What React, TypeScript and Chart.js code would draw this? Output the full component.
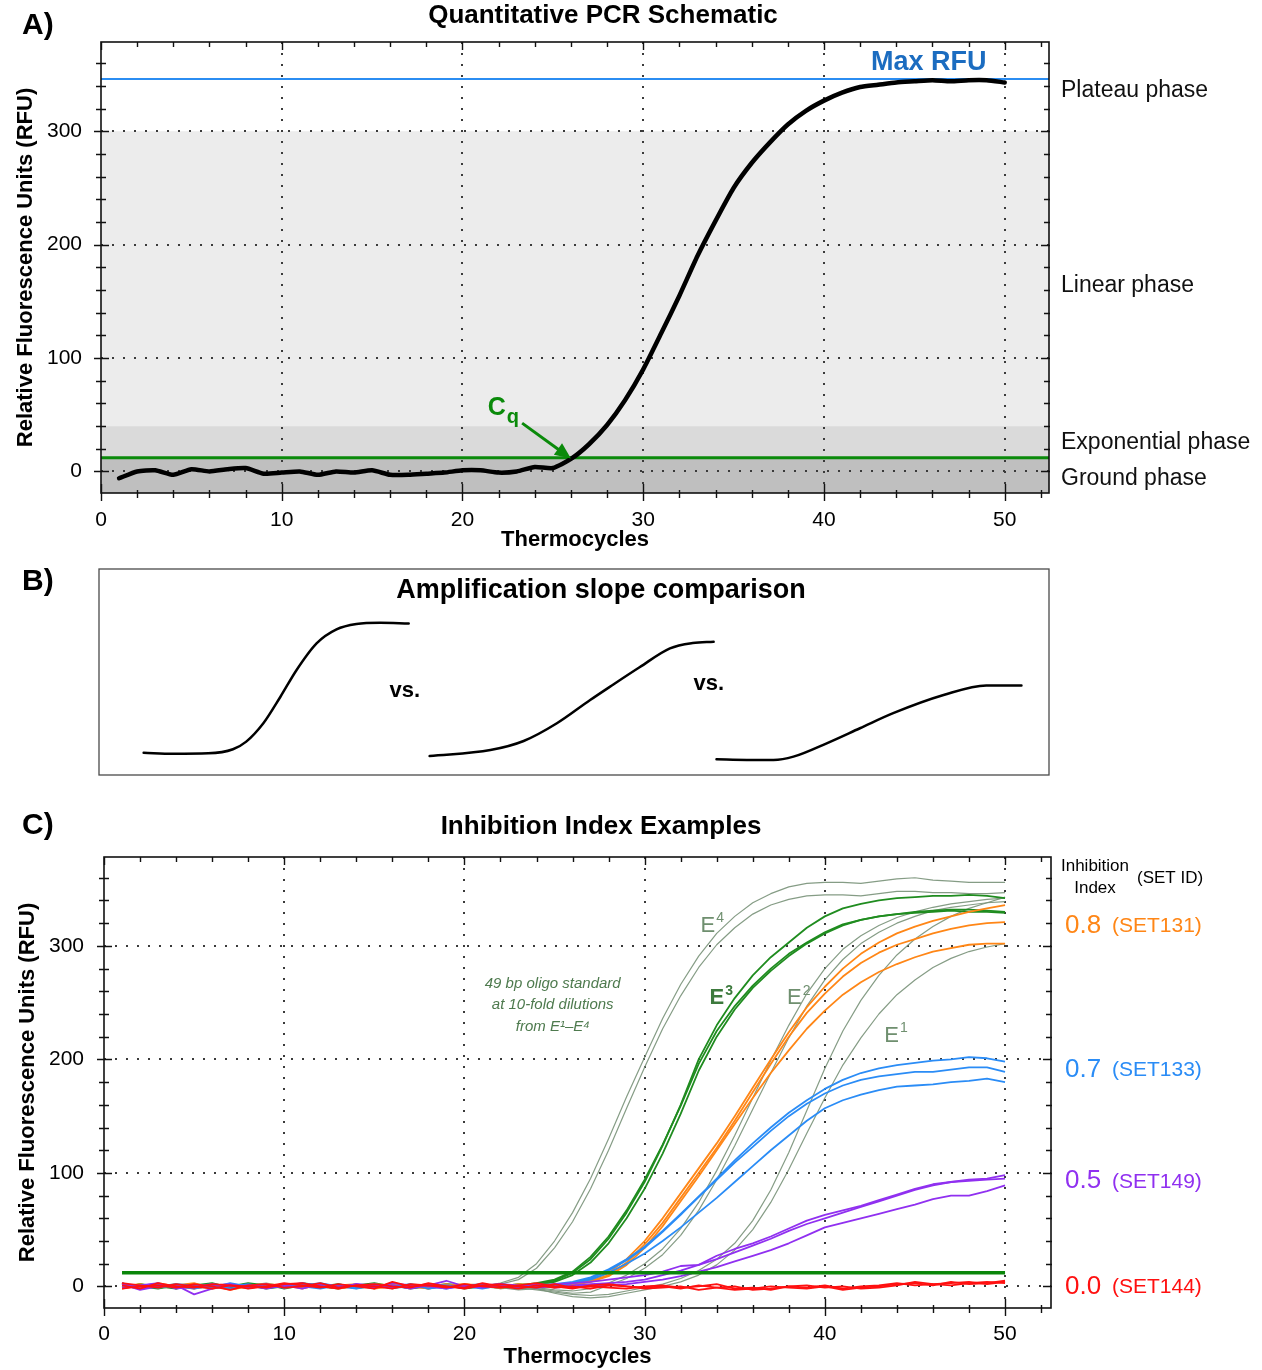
import React, { useEffect, useRef } from 'react';
import { Chart, registerables } from 'chart.js';

Chart.register(...registerables);

const FONT = "'Liberation Sans', Arial, Helvetica, sans-serif";
Chart.defaults.font.family = FONT;
Chart.defaults.color = '#000';

// ---------------- shared ----------------
const CYCLES = Array.from({ length: 50 }, (_, i) => i + 1);
const X_TICKS = [0, 10, 20, 30, 40, 50];
const Y_TICKS = [0, 100, 200, 300];

// ---------------- Panel A ----------------
const PCR_CURVE = [-6, 0, 1, -3, 2, 0, 2, 3, -2, -1, 0, -3, 0, -1, 1, -3, -3, -2, -1, 1, 1, -1, 0, 4, 3, 11, 24, 41, 63, 90, 122, 155, 190, 221, 250, 272, 290, 306, 318, 327, 334, 339, 341, 343, 344, 345, 344, 345, 345, 343];
const CQ_THRESHOLD = 12;
const MAX_RFU = 346;
const PHASE_BOUNDS = [12, 40, 300];
const PHASE_LABELS = ['Plateau phase', 'Linear phase', 'Exponential phase', 'Ground phase'];
const PHASE_LABEL_Y = [336, 164, 25, -6];
const A_X_RANGE = [0, 52.45];
const A_Y_RANGE = [-19, 378.7];
const MAX_RFU_LABEL = [45.8, 360.5];
const CQ_ARROW_FROM = [23.3, 42.6];
const CQ_ARROW_TO = [26.0, 11.5];
const CQ_LABEL = [21.4, 55.7];

// ---------------- Panel B ----------------
const SLOPE_FAST_X = [4.7, 7.8, 11.5, 14.1, 15.5, 17.3, 19.1, 20.8, 22.9, 25.0, 27.1, 29.6, 32.6];
const SLOPE_FAST_Y = [10.8, 10.3, 10.5, 12.5, 16.2, 25.1, 38.0, 51.0, 63.9, 70.7, 73.3, 73.9, 73.6];
const SLOPE_MID_X = [34.8, 41.2, 44.7, 48.2, 51.7, 53.8, 56.9, 60.1, 62.5, 64.7];
const SLOPE_MID_Y = [9.2, 12.1, 16.5, 25.1, 36.4, 42.9, 52.3, 61.5, 64.1, 64.7];
const SLOPE_SLOW_X = [65.0, 68.2, 71.0, 73.1, 76.6, 80.1, 83.6, 88.9, 93.4, 97.1];
const SLOPE_SLOW_Y = [7.6, 7.3, 7.3, 8.9, 15.4, 22.7, 30.0, 38.8, 43.5, 43.5];
const VS_LABELS = [[32.2, 41], [64.2, 44]];

// ---------------- Panel C ----------------
const C_X_RANGE = [0, 52.55];
const C_Y_RANGE = [-19, 378.3];
const E4_A = [2, -1, 1, -2, 0, 1, -1, 2, 0, -1, 1, 0, -2, 1, 0, -1, 2, 0, -1, 1, 0, 3, 8, 20, 40, 65, 95, 130, 167, 202, 236, 266, 291, 311, 326, 338, 346, 352, 355, 356, 356, 355, 357, 359, 360, 358, 357, 356, 356, 356];
const E4_B = [-2, 1, 0, 2, -1, 0, 1, -2, 1, 0, -1, 2, 0, -1, 1, -2, 0, 1, 0, -1, 1, 2, 6, 16, 34, 57, 86, 120, 157, 193, 227, 256, 281, 301, 316, 328, 336, 341, 344, 345, 345, 344, 346, 348, 348, 347, 347, 346, 346, 347];
const E2_A = [1, -1, 2, 0, -2, 1, 0, -1, 2, 1, -1, 0, 1, -2, 0, 2, -1, 1, 0, -1, 2, 0, -2, -1, -3, -4, -2, 3, 10, 20, 33, 51, 74, 102, 133, 166, 199, 230, 258, 280, 297, 309, 318, 325, 330, 334, 337, 339, 341, 342];
const E2_B = [-1, 2, 0, 1, -2, 0, 2, -1, 0, 1, 2, -1, 0, 1, -1, 0, 2, 1, -1, 0, 1, -2, 0, -2, -4, -6, -5, 1, 7, 16, 28, 45, 67, 94, 124, 156, 188, 219, 247, 270, 288, 302, 312, 320, 326, 331, 334, 336, 338, 339];
const E1_A = [0, 2, -1, 1, 0, -2, 1, 2, -1, 0, 1, -1, 2, 0, -2, 1, 0, -1, 2, 1, 0, -2, -1, -3, -5, -7, -8, -7, -4, -1, 2, 7, 14, 24, 38, 58, 85, 118, 155, 192, 225, 252, 274, 292, 306, 317, 326, 333, 338, 343];
const E1_B = [-1, 0, 2, -2, 1, 0, -1, 1, 3, 0, -1, 2, 0, -1, 1, -2, 1, 0, -1, 2, 0, -1, -3, -2, -6, -9, -10, -9, -6, -3, 0, 4, 10, 19, 32, 50, 74, 103, 135, 166, 195, 219, 240, 257, 270, 281, 289, 295, 299, 302];
const E3_A = [3, -2, 1, 0, 2, -1, 0, 3, 1, -1, 2, 0, -2, 1, 3, 0, -1, 2, 1, -2, 0, 1, -1, 2, 5, 12, 24, 42, 65, 92, 124, 160, 200, 230, 254, 274, 290, 303, 316, 326, 333, 337, 340, 342, 343, 344, 344, 345, 344, 342];
const E3_B = [-1, 2, 0, -2, 1, 3, -1, 0, 2, -2, 1, 0, 2, -1, 0, 1, -2, 0, 2, 1, -1, 0, 2, 1, 4, 10, 21, 38, 60, 86, 117, 152, 190, 220, 244, 263, 278, 291, 302, 311, 318, 323, 326, 328, 330, 331, 332, 332, 331, 330];
const E3_C = [1, 0, -2, 1, 2, 0, -1, 1, -2, 0, 3, 1, 0, -1, 2, 0, 1, -2, 1, 0, 2, -1, 1, 3, 6, 13, 26, 44, 67, 94, 125, 159, 196, 225, 247, 265, 280, 293, 303, 312, 319, 323, 326, 328, 329, 330, 331, 330, 330, 329];
const SET131_A = [2, -1, 3, 0, -2, 1, 2, -1, 0, 1, -2, 2, 0, 1, -1, 3, 0, -2, 1, 2, 0, -1, 1, 2, 0, 3, 6, 12, 24, 40, 60, 82, 104, 126, 150, 175, 200, 224, 246, 264, 280, 293, 303, 311, 317, 322, 326, 330, 333, 336];
const SET131_B = [0, 2, -1, 1, 3, -2, 0, 1, 2, -1, 0, 1, -2, 0, 2, 1, -1, 0, 2, -1, 1, 0, 2, 1, -1, 2, 5, 10, 21, 37, 56, 78, 100, 122, 146, 171, 196, 220, 241, 258, 273, 285, 294, 301, 306, 311, 315, 318, 320, 321];
const SET131_C = [-2, 1, 0, 2, -1, 1, -3, 0, 2, 1, -1, 0, 1, 2, -2, 0, 1, -1, 0, 2, 1, -1, 0, 1, 2, 1, 4, 9, 19, 34, 53, 75, 97, 120, 143, 166, 188, 208, 227, 243, 257, 268, 277, 284, 290, 295, 298, 301, 302, 302];
const SET133_A = [1, -2, 0, 2, 1, -1, 3, 0, -1, 2, 0, -2, 1, 0, 2, -1, 1, 0, -2, 1, 2, 0, -1, 1, 0, 3, 7, 14, 23, 34, 48, 63, 79, 95, 111, 126, 140, 153, 164, 174, 182, 188, 192, 195, 197, 199, 200, 202, 201, 198];
const SET133_B = [-1, 1, 2, 0, -2, 1, 0, 2, -1, 0, 1, 3, 0, -1, 1, 0, 2, -2, 0, 1, -1, 2, 0, 1, 2, 4, 8, 15, 24, 35, 49, 64, 79, 94, 109, 123, 137, 150, 161, 170, 177, 182, 185, 187, 189, 189, 191, 193, 193, 189];
const SET133_C = [2, 0, -1, 1, 0, 2, -2, 1, 0, -1, 2, 1, 0, -2, 1, 0, -1, 2, 1, 0, -2, 1, 0, 2, 1, 3, 6, 12, 20, 29, 40, 52, 65, 78, 92, 106, 120, 133, 146, 157, 164, 169, 173, 176, 177, 178, 180, 181, 183, 180];
const SET149_A = [3, -2, 1, 0, -1, 2, 0, 1, -2, 1, 3, 0, -1, 2, 1, -1, 0, 2, -1, 0, 1, 2, -1, 0, 2, 3, 4, 6, 8, 10, 13, 18, 19, 27, 33, 38, 44, 51, 58, 63, 67, 71, 76, 81, 86, 90, 92, 94, 95, 98];
const SET149_B = [-1, 1, 3, -2, 0, 1, 2, -1, 0, 1, -2, 2, 0, 1, -1, 3, 1, 0, -2, 1, 0, 2, 1, -1, 0, 1, 2, 3, 4, 6, 10, 14, 19, 24, 30, 36, 42, 49, 55, 60, 65, 70, 75, 80, 85, 89, 92, 93, 94, 95];
const SET149_C = [2, -3, 0, 1, -7, -2, 1, 0, 2, -1, 1, 0, -1, 2, 0, 1, -2, 1, 5, 0, -1, 1, 0, 2, -1, 0, 1, 1, 2, 4, 6, 9, 13, 17, 22, 27, 32, 38, 45, 52, 56, 60, 64, 68, 72, 77, 80, 80, 84, 89];
const SET144_A = [1, -2, 3, 0, -1, 2, 1, -2, 0, 3, 1, -1, 2, 0, -2, 4, 0, 1, -1, 2, 0, -1, 1, 3, 0, -2, 1, 2, 0, -1, 0, -2, 1, -1, -3, -2, 0, -1, -2, 0, -3, -1, 0, 2, 3, 1, 4, 2, 3, 5];
const SET144_B = [-2, 0, 1, -1, 2, 0, -3, 1, 2, -1, 0, 3, -1, 1, 0, -2, 2, 1, 0, -1, 3, 0, -2, 1, -1, 0, -2, 1, 0, -2, -1, 0, -3, -1, 0, -3, -2, 0, -1, 1, -2, 0, 1, 3, 1, 2, 3, 4, 2, 4];
const SET144_C = [3, 1, -1, 2, 0, -2, 1, 0, -1, 2, 3, 0, -2, 1, 2, 0, -1, 3, 0, -2, 1, 2, 0, -1, 2, -1, 0, -1, -2, 0, 1, -1, 0, 2, -2, -1, -3, 0, 1, -1, 0, -2, -1, 1, 4, 2, 1, 3, 4, 3];
const C_THRESHOLD_SPAN = [1, 50];

const INHIBITION_INDEX = ['0.8', '0.7', '0.5', '0.0'];
const SET_IDS = ['(SET131)', '(SET133)', '(SET149)', '(SET144)'];
const SET_COLORS = ['#ff8616', '#2a8cf6', '#9030f0', '#ff1010'];
const SET_LABEL_Y = [318, 191, 93, 0];
const E_SUPS = ['4', '3', '2', '1'];
const E_LABEL_X = [33.1, 33.6, 37.9, 43.3];
const E_LABEL_Y = [318, 254, 254, 221];
const OLIGO_LINES = ['49 bp oligo standard', 'at 10-fold dilutions', 'from E\u00b9\u2013E\u2074'];
const OLIGO_X = 24.9;
const OLIGO_Y = [267, 248, 229];

// ---------------- helpers ----------------
const pts = (vals: number[]) => vals.map((v, i) => ({ x: CYCLES[i], y: v }));
const xy = (xs: number[], ys: number[]) => xs.map((v, i) => ({ x: v, y: ys[i] }));

function label(ctx: CanvasRenderingContext2D, s: string, x: number, y: number, weight: string, size: number, color: string, align: CanvasTextAlign, style = '') {
  ctx.save();
  ctx.font = `${style} ${weight} ${size}px ${FONT}`;
  ctx.fillStyle = color;
  ctx.textAlign = align;
  ctx.textBaseline = 'middle';
  ctx.fillText(s, x, y);
  ctx.restore();
}

function scriptText(ctx: CanvasRenderingContext2D, base: string, small: string, x: number, y: number, size: number, smallSize: number, dy: number, color: string, weight: string) {
  ctx.save();
  ctx.fillStyle = color;
  ctx.textAlign = 'left';
  ctx.textBaseline = 'middle';
  ctx.font = `${weight} ${size}px ${FONT}`;
  ctx.fillText(base, x, y);
  const w = ctx.measureText(base).width;
  ctx.font = `${weight} ${smallSize}px ${FONT}`;
  ctx.fillText(small, x + w + 1, y + dy);
  ctx.restore();
}

function drawFrame(chart: any, xStep: number, yStep: number, yMajor: number) {
  const { ctx, chartArea: a } = chart;
  const xs = chart.scales.x;
  const ys = chart.scales.y;
  ctx.save();
  ctx.strokeStyle = '#111';
  ctx.lineWidth = 1.6;
  ctx.strokeRect(a.left, a.top, a.right - a.left, a.bottom - a.top);
  ctx.lineWidth = 1.4;
  ctx.beginPath();
  for (let v = Math.ceil(xs.min / xStep) * xStep; v <= xs.max + 1e-9; v += xStep) {
    const p = Math.round(xs.getPixelForValue(v)) + 0.5;
    const major = Math.abs(v % 10) < 1e-6;
    ctx.moveTo(p, a.bottom - (major ? 9 : 3));
    ctx.lineTo(p, a.bottom + (major ? 8 : 5));
    ctx.moveTo(p, a.top);
    ctx.lineTo(p, a.top + (major ? 8 : 5));
  }
  for (let v = Math.ceil(ys.min / yStep) * yStep; v <= ys.max + 1e-9; v += yStep) {
    const p = Math.round(ys.getPixelForValue(v)) + 0.5;
    const major = Math.abs(v % yMajor) < 1e-6;
    ctx.moveTo(a.left - (major ? 7 : 5), p);
    ctx.lineTo(a.left + (major ? 8 : 5), p);
    ctx.moveTo(a.right - (major ? 8 : 5), p);
    ctx.lineTo(a.right + 1, p);
  }
  ctx.stroke();
  ctx.restore();
}

function axisOptions(range: number[], tickValues: number[], fitKey: 'width' | 'height', fitSize: number, title: string, titlePad: any, tickPad: number, hideZeroGrid: boolean) {
  return {
    type: 'linear',
    min: range[0],
    max: range[1],
    afterBuildTicks: (s: any) => { s.ticks = tickValues.map((v) => ({ value: v })); },
    afterFit: (s: any) => { s[fitKey] = fitSize; },
    ticks: { padding: tickPad, autoSkip: false, maxRotation: 0, font: { size: 21 }, color: '#000' },
    grid: {
      drawTicks: false,
      lineWidth: 2,
      color: (c: any) => (c.tick && (!hideZeroGrid || c.tick.value !== 0) ? '#3a3a3a' : 'rgba(0,0,0,0)'),
    },
    border: { display: false, dash: [2, 9] },
    title: { display: true, text: title, font: { size: 22, weight: 'bold' }, color: '#000', padding: titlePad },
  };
}

const line = (data: any[], color: string, width: number, extra: any = {}) => ({
  data, borderColor: color, borderWidth: width, pointRadius: 0, fill: false, tension: 0,
  borderJoinStyle: 'round', ...extra,
});

// ---------------- charts ----------------
function makeA(canvas: HTMLCanvasElement) {
  const plugin = {
    id: 'panelA',
    beforeDraw(chart: any) {
      const { ctx, chartArea: a, scales: { y } } = chart;
      const fills = ['#bfbfbf', '#dadada', '#ececec'];
      let lo = y.min;
      ctx.save();
      PHASE_BOUNDS.forEach((hi, i) => {
        const top = y.getPixelForValue(hi);
        const bot = y.getPixelForValue(lo);
        ctx.fillStyle = fills[i];
        ctx.fillRect(a.left, top, a.right - a.left, bot - top);
        lo = hi;
      });
      ctx.restore();
    },
    afterDraw(chart: any) {
      drawFrame(chart, 2, 20, 100);
      const { ctx, chartArea: a, scales: { x, y } } = chart;
      label(ctx, 'A)', 22, 26, 'bold', 30, '#000', 'left');
      label(ctx, 'Quantitative PCR Schematic', 603, 16, 'bold', 26, '#000', 'center');
      label(ctx, 'Max RFU', x.getPixelForValue(MAX_RFU_LABEL[0]), y.getPixelForValue(MAX_RFU_LABEL[1]), 'bold', 27, '#1b6cc0', 'center');
      PHASE_LABELS.forEach((s, i) => label(ctx, s, a.right + 12, y.getPixelForValue(PHASE_LABEL_Y[i]), 'normal', 23, '#111', 'left'));
      // Cq arrow
      const x0 = x.getPixelForValue(CQ_ARROW_FROM[0]);
      const y0 = y.getPixelForValue(CQ_ARROW_FROM[1]);
      const x1 = x.getPixelForValue(CQ_ARROW_TO[0]);
      const y1 = y.getPixelForValue(CQ_ARROW_TO[1]);
      const ang = Math.atan2(y1 - y0, x1 - x0);
      const head = 16;
      const half = 7;
      ctx.save();
      ctx.strokeStyle = '#0a8a0a';
      ctx.fillStyle = '#0a8a0a';
      ctx.lineWidth = 3;
      ctx.beginPath();
      ctx.moveTo(x0, y0);
      ctx.lineTo(x1 - head * 0.8 * Math.cos(ang), y1 - head * 0.8 * Math.sin(ang));
      ctx.stroke();
      const bx = x1 - head * Math.cos(ang);
      const by = y1 - head * Math.sin(ang);
      ctx.beginPath();
      ctx.moveTo(x1, y1);
      ctx.lineTo(bx + half * Math.sin(ang), by - half * Math.cos(ang));
      ctx.lineTo(bx - half * Math.sin(ang), by + half * Math.cos(ang));
      ctx.closePath();
      ctx.fill();
      ctx.restore();
      scriptText(ctx, 'C', 'q', x.getPixelForValue(CQ_LABEL[0]), y.getPixelForValue(CQ_LABEL[1]), 25, 20, 9, '#0a8a0a', 'bold');
    },
  };
  return new Chart(canvas, {
    type: 'line',
    data: {
      datasets: [
        line(pts(PCR_CURVE), '#000', 4.5, { tension: 0.2, borderCapStyle: 'round' }),
        line([{ x: A_X_RANGE[0], y: CQ_THRESHOLD }, { x: A_X_RANGE[1], y: CQ_THRESHOLD }], '#0a8a0a', 3),
        line([{ x: A_X_RANGE[0], y: MAX_RFU }, { x: A_X_RANGE[1], y: MAX_RFU }], '#2b8df2', 2),
      ],
    },
    options: {
      animation: false,
      responsive: false,
      events: [],
      layout: { padding: { left: 0, top: 42, right: 213, bottom: 0 } },
      plugins: { legend: { display: false }, tooltip: { enabled: false } },
      scales: {
        x: axisOptions(A_X_RANGE, X_TICKS, 'height', 67, 'Thermocycles', { top: 0, bottom: 7 }, 15, true),
        y: axisOptions(A_Y_RANGE, Y_TICKS, 'width', 101, 'Relative Fluorescence Units (RFU)', { top: 13, bottom: 0 }, 19, false),
      },
    } as any,
    plugins: [plugin],
  } as any);
}

function makeB(canvas: HTMLCanvasElement) {
  const plugin = {
    id: 'panelB',
    afterDraw(chart: any) {
      const { ctx, chartArea: a, scales: { x, y } } = chart;
      ctx.save();
      ctx.strokeStyle = '#4a4a4a';
      ctx.lineWidth = 1.3;
      ctx.strokeRect(a.left, a.top, a.right - a.left, a.bottom - a.top);
      ctx.restore();
      label(ctx, 'B)', 22, 22, 'bold', 30, '#000', 'left');
      label(ctx, 'Amplification slope comparison', 601, 31, 'bold', 27, '#000', 'center');
      VS_LABELS.forEach(([vx, vy]) => label(ctx, 'vs.', x.getPixelForValue(vx), y.getPixelForValue(vy), 'bold', 22, '#000', 'center'));
    },
  };
  const smooth = { cubicInterpolationMode: 'monotone', borderCapStyle: 'round' };
  return new Chart(canvas, {
    type: 'line',
    data: {
      datasets: [
        line(xy(SLOPE_FAST_X, SLOPE_FAST_Y), '#000', 2.5, smooth),
        line(xy(SLOPE_MID_X, SLOPE_MID_Y), '#000', 2.5, smooth),
        line(xy(SLOPE_SLOW_X, SLOPE_SLOW_Y), '#000', 2.5, smooth),
      ],
    },
    options: {
      animation: false,
      responsive: false,
      events: [],
      layout: { padding: { left: 99, top: 9, right: 213, bottom: 25 } },
      plugins: { legend: { display: false }, tooltip: { enabled: false } },
      scales: {
        x: { type: 'linear', display: false, min: 0, max: 100 },
        y: { type: 'linear', display: false, min: 0, max: 100 },
      },
    } as any,
    plugins: [plugin],
  } as any);
}

function makeC(canvas: HTMLCanvasElement) {
  const plugin = {
    id: 'panelC',
    afterDraw(chart: any) {
      drawFrame(chart, 2, 20, 100);
      const { ctx, chartArea: a, scales: { x, y } } = chart;
      label(ctx, 'C)', 22, 26, 'bold', 30, '#000', 'left');
      label(ctx, 'Inhibition Index Examples', 601, 27, 'bold', 26, '#000', 'center');
      label(ctx, 'Inhibition', 1095, 66, 'normal', 17, '#000', 'center');
      label(ctx, 'Index', 1095, 88, 'normal', 17, '#000', 'center');
      label(ctx, '(SET ID)', 1137, 78, 'normal', 17, '#000', 'left');
      INHIBITION_INDEX.forEach((s, i) => {
        const py = y.getPixelForValue(SET_LABEL_Y[i]);
        label(ctx, s, a.right + 14, py, 'normal', 26, SET_COLORS[i], 'left');
        label(ctx, SET_IDS[i], a.right + 61, py + 1, 'normal', 21, SET_COLORS[i], 'left');
      });
      OLIGO_LINES.forEach((s, i) => label(ctx, s, x.getPixelForValue(OLIGO_X), y.getPixelForValue(OLIGO_Y[i]), 'normal', 15, '#4e7a4e', 'center', 'italic'));
      E_SUPS.forEach((s, i) => {
        const bold = s === '3';
        scriptText(ctx, 'E', s, x.getPixelForValue(E_LABEL_X[i]), y.getPixelForValue(E_LABEL_Y[i]), 22, 14, -7, bold ? '#3d7a3d' : '#6f8f6f', bold ? 'bold' : 'normal');
      });
    },
  };
  const gray = 'rgba(120,145,120,0.9)';
  const green = '#1f8c1f';
  return new Chart(canvas, {
    type: 'line',
    data: {
      datasets: [
        line([{ x: C_THRESHOLD_SPAN[0], y: CQ_THRESHOLD }, { x: C_THRESHOLD_SPAN[1], y: CQ_THRESHOLD }], '#0a860a', 3.5),
        line(pts(SET144_A), SET_COLORS[3], 1.8),
        line(pts(SET144_B), SET_COLORS[3], 1.8),
        line(pts(SET144_C), SET_COLORS[3], 1.8),
        line(pts(SET149_A), SET_COLORS[2], 1.8),
        line(pts(SET149_B), SET_COLORS[2], 1.8),
        line(pts(SET149_C), SET_COLORS[2], 1.8),
        line(pts(SET133_A), SET_COLORS[1], 1.8),
        line(pts(SET133_B), SET_COLORS[1], 1.8),
        line(pts(SET133_C), SET_COLORS[1], 1.8),
        line(pts(SET131_A), SET_COLORS[0], 1.8),
        line(pts(SET131_B), SET_COLORS[0], 1.8),
        line(pts(SET131_C), SET_COLORS[0], 1.8),
        line(pts(E3_A), green, 1.8),
        line(pts(E3_B), green, 1.8),
        line(pts(E3_C), green, 1.8),
        line(pts(E4_A), gray, 1.2),
        line(pts(E4_B), gray, 1.2),
        line(pts(E2_A), gray, 1.2),
        line(pts(E2_B), gray, 1.2),
        line(pts(E1_A), gray, 1.2),
        line(pts(E1_B), gray, 1.2),
      ],
    },
    options: {
      animation: false,
      responsive: false,
      events: [],
      layout: { padding: { left: 0, top: 57, right: 211, bottom: 0 } },
      plugins: { legend: { display: false }, tooltip: { enabled: false } },
      scales: {
        x: axisOptions(C_X_RANGE, X_TICKS, 'height', 62, 'Thermocycles', { top: 0, bottom: 0 }, 14, true),
        y: axisOptions(C_Y_RANGE, Y_TICKS, 'width', 104, 'Relative Fluorescence Units (RFU)', { top: 15, bottom: 0 }, 20, false),
      },
    } as any,
    plugins: [plugin],
  } as any);
}

export default function App() {
  const refA = useRef<HTMLCanvasElement>(null);
  const refB = useRef<HTMLCanvasElement>(null);
  const refC = useRef<HTMLCanvasElement>(null);
  useEffect(() => {
    const charts = [makeA(refA.current!), makeB(refB.current!), makeC(refC.current!)];
    return () => charts.forEach((c) => c.destroy());
  }, []);
  return (
    <div style={{ position: 'absolute', left: 0, top: 0, width: 1262, height: 1370, background: '#fff', overflow: 'hidden' }}>
      <canvas ref={refA} width={1262} height={560} style={{ position: 'absolute', left: 0, top: 0 }} />
      <canvas ref={refB} width={1262} height={240} style={{ position: 'absolute', left: 0, top: 560 }} />
      <canvas ref={refC} width={1262} height={570} style={{ position: 'absolute', left: 0, top: 800 }} />
    </div>
  );
}
